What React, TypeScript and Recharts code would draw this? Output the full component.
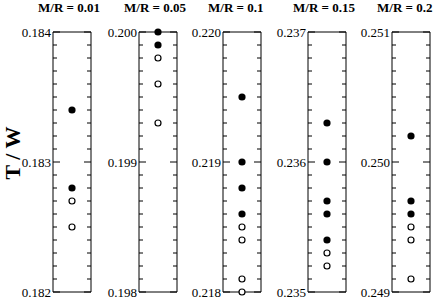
import React from "react";
import { ScatterChart, Scatter, XAxis, YAxis, ReferenceArea } from "recharts";

const panelTitles = ["M/R = 0.01", "M/R = 0.05", "M/R = 0.1", "M/R = 0.15", "M/R = 0.2"];
const yMins = [0.182, 0.198, 0.218, 0.235, 0.249];
const yMaxs = [0.184, 0.2, 0.22, 0.237, 0.251];
const majorTicks = [
  [0.182, 0.183, 0.184],
  [0.198, 0.199, 0.2],
  [0.218, 0.219, 0.22],
  [0.235, 0.236, 0.237],
  [0.249, 0.25, 0.251],
];
const minorStep = 0.0001;

const filledSeries = [
  [0.1834, 0.1828],
  [0.2, 0.1999],
  [0.2195, 0.219, 0.2188, 0.2186],
  [0.2363, 0.236, 0.2357, 0.2356, 0.2354],
  [0.2502, 0.2497, 0.2496],
];
const openSeries = [
  [0.1827, 0.1825],
  [0.1998, 0.1996, 0.1993],
  [0.2185, 0.2184, 0.2181, 0.218],
  [0.2353, 0.2352],
  [0.2495, 0.2494, 0.2491],
];

const yLabel = "T / W";

const SERIF = "Liberation Serif, Tinos, Times New Roman, Times, DejaVu Serif, serif";

const BOX_LEFTS = [53, 139, 223, 308, 392];
const BOX_W = 38;
const AXIS_W = 50;
const TOP = 32;
const BOTTOM = 5;
const H = 297;

function buildTicks(min: number, max: number) {
  const n = Math.round((max - min) / minorStep);
  const out: number[] = [];
  for (let i = 0; i <= n; i++) out.push(+(min + i * minorStep).toFixed(4));
  return out;
}

function TickMark(props: any) {
  const { x, y, payload, majors } = props;
  const v = payload.value;
  const isMajor = majors.some((m: number) => Math.abs(m - v) < 1e-7);
  const len = isMajor ? 7 : 4;
  return (
    <g>
      <line x1={x} x2={x + len} y1={y} y2={y} stroke="#000" strokeWidth={1} />
      <line x1={x + BOX_W - len} x2={x + BOX_W} y1={y} y2={y} stroke="#000" strokeWidth={1} />
      {isMajor && (
        <text
          x={x - 2}
          y={y}
          textAnchor="end"
          dominantBaseline="central"
          style={{ fontFamily: SERIF, fontSize: 13 }}
          fill="#000"
        >
          {v.toFixed(3)}
        </text>
      )}
    </g>
  );
}

const FilledDot = (p: any) => <circle cx={p.cx} cy={p.cy} r={3.6} fill="#000" />;
const OpenDot = (p: any) => (
  <circle cx={p.cx} cy={p.cy} r={3} fill="#fff" stroke="#000" strokeWidth={1.2} />
);

function Panel({ i }: { i: number }) {
  const min = yMins[i];
  const max = yMaxs[i];
  const ticks = buildTicks(min, max);
  const filled = filledSeries[i].map((v) => ({ x: 1, y: v }));
  const open = openSeries[i].map((v) => ({ x: 1, y: v }));
  const majors = majorTicks[i];
  return (
    <div style={{ position: "absolute", left: BOX_LEFTS[i] - AXIS_W, top: 0 }}>
      <ScatterChart
        width={AXIS_W + BOX_W + 2}
        height={H}
        margin={{ top: TOP, right: 2, bottom: BOTTOM, left: 0 }}
        style={{ overflow: "visible" }}
      >
        <XAxis type="number" dataKey="x" domain={[0, 2]} hide />
        <YAxis
          type="number"
          dataKey="y"
          domain={[min, max]}
          ticks={ticks}
          interval={0}
          width={AXIS_W}
          axisLine={false}
          tickLine={false}
          tickSize={0}
          tickMargin={0}
          tick={(p: any) => <TickMark {...p} majors={majors} />}
        />
        <ReferenceArea x1={0} x2={2} y1={min} y2={max} fill="none" stroke="#000" strokeWidth={1} fillOpacity={0} />
        <Scatter data={open} shape={OpenDot} isAnimationActive={false} />
        <Scatter data={filled} shape={FilledDot} isAnimationActive={false} />
      </ScatterChart>
    </div>
  );
}

export default function App() {
  return (
    <div style={{ position: "absolute", left: 0, top: 0, width: 436, height: 297, background: "#fff" }}>
      {panelTitles.map((t, i) => (
        <div
          key={t}
          style={{
            position: "absolute",
            left: BOX_LEFTS[i] - 15,
            top: 0,
            fontFamily: SERIF,
            fontWeight: "bold",
            fontSize: 13,
            whiteSpace: "nowrap",
          }}
        >
          {t}
        </div>
      ))}
      <svg width={30} height={297} style={{ position: "absolute", left: 0, top: 0 }}>
        <text
          x={12}
          y={153}
          transform="rotate(-90 12 153)"
          textAnchor="middle"
          dominantBaseline="central"
          style={{ fontFamily: SERIF, fontWeight: "bold", fontSize: 22 }}
        >
          {yLabel}
        </text>
      </svg>
      {panelTitles.map((t, i) => (
        <Panel key={i} i={i} />
      ))}
    </div>
  );
}
